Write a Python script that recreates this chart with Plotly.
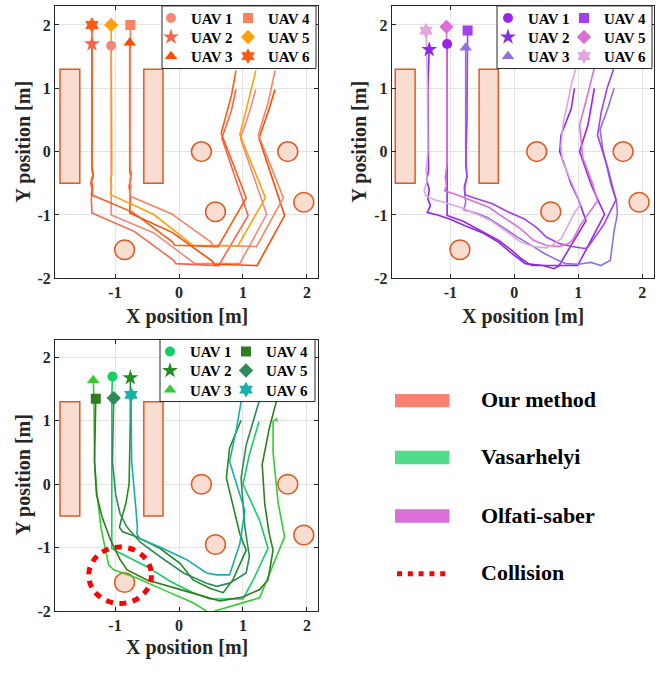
import plotly.graph_objects as go

# ------------------------------------------------------------------ data
x_ticks = [-1, 0, 1, 2]
x_tick_text = ["-1", "0", "1", "2"]
y_ticks = [-2, -1, 0, 1, 2]
y_tick_text = ["-2", "-1", "0", "1", "2"]

uav_names = ["UAV 1", "UAV 2", "UAV 3", "UAV 4", "UAV 5", "UAV 6"]
uav_symbols = ["circle", "star", "triangle-up", "square", "diamond", "hexagram"]

# obstacles
rect_x0 = [-1.86, -0.55]
rect_x1 = [-1.55, -0.25]
rect_y0 = [-0.50, -0.50]
rect_y1 = [1.30, 1.30]
circ_x = [0.35, 1.70, 0.57, 1.95, -0.85]
circ_y = [0.00, 0.00, -0.95, -0.80, -1.55]
circ_r = [0.155, 0.155, 0.155, 0.155, 0.155]

# collision region (Vasarhelyi)
collision_x = [-1.41, -0.43]
collision_y = [-1.88, -0.99]

method_names = ["Our method", "Vasarhelyi", "Olfati-saber", "Collision"]

# ---- Our method trajectories
our_uav1_x = [-1.06, -1.06, -1.06, -0.40, 0.22, 0.25, 0.95, 1.37, 0.96, 1.10, 1.20]
our_uav1_y = [1.67, -0.60, -1.00, -1.28, -1.74, -1.77, -1.77, -0.99, 0.21, 0.62, 0.98]
our_uav2_x = [-1.36, -1.36, -1.34, -1.38, -1.35, -1.37, -1.36, -0.70, -0.08, -0.05, 0.62, 1.08, 0.67, 0.82, 0.89]
our_uav2_y = [1.70, -0.30, -0.40, -0.50, -0.62, -0.75, -0.97, -1.26, -1.72, -1.77, -1.80, -1.01, 0.21, 0.65, 0.98]
our_uav3_x = [-0.77, -0.77, -0.75, -0.78, -0.76, -0.77, -0.10, 0.52, 0.55, 1.22, 1.65, 1.25, 1.40, 1.50]
our_uav3_y = [1.72, -0.30, -0.42, -0.55, -0.68, -0.97, -1.28, -1.73, -1.78, -1.80, -1.01, 0.21, 0.65, 0.98]
our_uav4_x = [-0.76, -0.76, -0.74, -0.77, -0.75, -0.77, -0.12, 0.50, 0.53, 1.21, 1.63, 1.24, 1.40, 1.50]
our_uav4_y = [2.00, -0.25, -0.35, -0.45, -0.55, -0.70, -0.98, -1.43, -1.48, -1.50, -0.73, 0.27, 0.80, 1.28]
our_uav5_x = [-1.06, -1.06, -1.05, -1.07, -1.05, -1.07, -0.40, 0.22, 0.92, 1.35, 0.95, 1.08, 1.20]
our_uav5_y = [2.00, -0.25, -0.35, -0.45, -0.55, -0.68, -0.99, -1.48, -1.49, -0.73, 0.27, 0.78, 1.28]
our_uav6_x = [-1.36, -1.36, -1.34, -1.37, -1.35, -1.37, -0.72, -0.10, -0.07, 0.61, 1.05, 0.66, 0.82, 0.89]
our_uav6_y = [2.00, -0.25, -0.35, -0.45, -0.55, -0.68, -0.96, -1.43, -1.48, -1.50, -0.73, 0.29, 0.89, 1.28]

# ---- Olfati-saber trajectories
olf_uav1_x = [-1.05, -1.05, -1.05, -0.80, -0.62, -0.46, -0.25, -0.04, 0.12, 0.27, 0.99, 1.20, 1.41, 1.30, 1.20, 1.02, 1.08, 1.15, 1.20, 1.25]
olf_uav1_y = [1.70, -0.50, -1.01, -1.10, -1.20, -1.28, -1.40, -1.56, -1.70, -1.80, -1.80, -1.40, -0.99, -0.75, -0.52, 0.00, 0.20, 0.42, 0.70, 1.00]
olf_uav2_x = [-1.33, -1.35, -1.34, -1.37, -1.33, -1.35, -1.31, -1.36, -1.20, -1.00, -0.77, -0.50, -0.25, -0.05, 0.17, 0.45, 0.62, 0.70, 0.90, 1.12, 1.00, 0.89, 0.71, 0.73, 0.89, 0.94]
olf_uav2_y = [1.61, 1.00, -0.30, -0.45, -0.60, -0.75, -0.85, -0.96, -1.00, -1.07, -1.17, -1.28, -1.43, -1.60, -1.77, -1.80, -1.85, -1.80, -1.46, -1.09, -0.75, -0.52, 0.00, 0.26, 0.68, 1.00]
olf_uav3_x = [-0.76, -0.76, -0.74, -0.78, -0.76, -0.79, -0.60, -0.42, -0.20, 0.05, 0.30, 0.47, 0.65, 0.80, 1.00, 1.20, 1.35, 1.50, 1.56, 1.61, 1.60, 1.51, 1.38, 1.34, 1.46, 1.56]
olf_uav3_y = [1.64, 0.00, -0.40, -0.60, -0.80, -0.92, -0.97, -1.04, -1.18, -1.35, -1.50, -1.61, -1.70, -1.77, -1.78, -1.75, -1.80, -1.72, -1.25, -0.99, -0.80, -0.52, 0.05, 0.35, 0.68, 1.00]
olf_uav4_x = [-0.73, -0.74, -0.76, -0.74, -0.78, -0.77, -0.60, -0.35, -0.10, 0.15, 0.35, 0.50, 0.70, 0.90, 1.10, 1.15, 1.40, 1.59, 1.52, 1.46, 1.30, 1.36, 1.45, 1.55]
olf_uav4_y = [1.91, 0.50, -0.20, -0.40, -0.55, -0.68, -0.74, -0.82, -0.95, -1.06, -1.20, -1.35, -1.45, -1.50, -1.53, -1.51, -1.15, -0.76, -0.50, -0.26, 0.26, 0.63, 1.00, 1.30]
olf_uav5_x = [-1.06, -1.05, -1.05, -1.08, -1.06, -1.09, -0.90, -0.65, -0.40, -0.15, 0.10, 0.30, 0.50, 0.70, 0.85, 0.92, 1.04, 1.30, 1.22, 1.07, 1.02, 1.12, 1.18, 1.25]
olf_uav5_y = [1.97, 1.00, -0.20, -0.40, -0.55, -0.62, -0.68, -0.78, -0.88, -1.05, -1.22, -1.40, -1.48, -1.50, -1.45, -1.38, -1.15, -0.78, -0.50, -0.10, 0.42, 0.80, 1.05, 1.32]
olf_uav6_x = [-1.38, -1.36, -1.35, -1.38, -1.36, -1.41, -1.38, -1.25, -1.10, -0.85, -0.60, -0.35, -0.10, 0.10, 0.30, 0.50, 0.60, 0.73, 0.95, 1.04, 0.90, 0.75, 0.73, 0.76, 0.85, 0.90, 0.96]
olf_uav6_y = [1.91, 1.20, 0.00, -0.30, -0.45, -0.62, -0.70, -0.76, -0.80, -0.88, -0.98, -1.10, -1.28, -1.43, -1.50, -1.52, -1.47, -1.38, -0.95, -0.83, -0.50, -0.15, 0.10, 0.42, 0.85, 1.10, 1.30]

# ---- Vasarhelyi trajectories
vas_uav1_x = [-1.04, -1.05, -1.05, -0.97, -0.50, -0.14, 0.22, 0.48, 1.00, 1.16, 1.39, 1.26, 1.00, 1.10, 1.25]
vas_uav1_y = [1.70, 1.40, -1.01, -1.06, -1.30, -1.53, -1.71, -1.81, -1.81, -1.51, -1.01, -0.57, 0.00, 0.47, 0.99]
vas_uav2_x = [-0.76, -0.76, -0.78, -0.83, -0.90, -0.93, -0.88, -0.66, -0.30, 0.02, 0.22, 0.48, 0.69, 0.84, 1.05, 0.95, 0.74, 0.79, 0.97]
vas_uav2_y = [1.68, 1.00, 0.00, -0.30, -0.55, -0.68, -0.75, -0.83, -1.01, -1.25, -1.51, -1.64, -1.71, -1.51, -1.04, -0.78, 0.10, 0.57, 1.01]
vas_uav3_x = [-1.34, -1.33, -1.32, -1.28, -1.22, -1.15, -1.10, -1.02, -0.66, -0.19, 0.22, 0.43, 0.50, 0.56, 1.26, 1.65, 1.55, 1.47, 1.47, 1.52, 1.54]
vas_uav3_y = [1.64, 1.40, 0.36, -0.16, -0.68, -1.04, -1.27, -1.35, -1.48, -1.69, -1.87, -2.00, -2.06, -2.00, -1.79, -0.83, -0.30, 0.50, 0.99, 1.03, 0.99]
vas_uav4_x = [-1.30, -1.32, -1.29, -1.20, -1.07, -0.92, -0.81, -0.50, 0.12, 0.64, 1.00, 1.26, 1.39, 1.47, 1.41, 1.34, 1.30, 1.41, 1.52]
vas_uav4_y = [1.35, 0.36, -0.16, -0.52, -0.88, -1.19, -1.35, -1.51, -1.69, -1.84, -1.78, -1.66, -1.51, -1.04, -0.78, -0.31, 0.31, 0.88, 1.30]
vas_uav5_x = [-1.02, -1.04, -0.99, -0.92, -0.81, -0.61, -0.30, 0.07, 0.43, 0.59, 0.79, 0.97, 1.05, 1.10, 1.03, 0.97, 1.05, 1.25]
vas_uav5_y = [1.36, 0.36, -0.16, -0.47, -0.68, -0.91, -1.14, -1.40, -1.56, -1.61, -1.56, -1.45, -1.40, -1.14, -0.68, 0.10, 0.62, 1.30]
vas_uav6_x = [-0.75, -0.74, -0.68, -0.65, -0.66, -0.61, -0.30, 0.12, 0.43, 0.59, 0.79, 0.95, 1.03, 0.79, 0.90, 0.97]
vas_uav6_y = [1.41, 0.36, -0.31, -0.68, -0.78, -0.86, -0.99, -1.19, -1.40, -1.43, -1.43, -0.94, -0.42, 0.36, 0.88, 1.30]

# ------------------------------------------------------------------ styles
FONT = "Liberation Serif"
W, H = 662, 675

our_colors = ["#F5877A", "#FA644B", "#FF4B00", "#FA825F", "#FFA00A", "#FF5A14"]
olf_colors = ["#9B23EB", "#8A2BE2", "#9370DB", "#A040F0", "#DA70D6", "#E2A6DE"]
vas_colors = ["#14CD64", "#228B22", "#32CD32", "#2E7D1E", "#2E8B57", "#17AFAA"]
symbol_sizes = [10, 12, 11, 10, 11, 12]
method_colors = ["#FA8072", "#52DB8A", "#DA70D6", "#FF0000"]

obst_fill = "#F8DDD0"
obst_line = "#DD5A22"


def px_x(p):
    return p / W


def py_y(p):
    return 1 - p / H


panels = [
    dict(name="our", xs=[our_uav1_x, our_uav2_x, our_uav3_x, our_uav4_x, our_uav5_x, our_uav6_x],
         ys=[our_uav1_y, our_uav2_y, our_uav3_y, our_uav4_y, our_uav5_y, our_uav6_y],
         colors=our_colors, xa="x", ya="y",
         xdom=[55, 318], ydom=[6, 282], xr=[-1.9375, 2.172], yr=[-2, 2.3],
         box=[162, 316, 6, 69.5], symx=[171, 248], rows=[18, 37.3, 56.7],
         xtitle=(186.7, 320.7), ytitle=(23.3, 144)),
    dict(name="olf", xs=[olf_uav1_x, olf_uav2_x, olf_uav3_x, olf_uav4_x, olf_uav5_x, olf_uav6_x],
         ys=[olf_uav1_y, olf_uav2_y, olf_uav3_y, olf_uav4_y, olf_uav5_y, olf_uav6_y],
         colors=olf_colors, xa="x2", ya="y2",
         xdom=[391.7, 653.7], ydom=[6, 282], xr=[-1.916, 2.178], yr=[-2, 2.3],
         box=[497, 652, 6, 69.5], symx=[508, 584], rows=[18, 37.3, 56.7],
         xtitle=(522.7, 320.7), ytitle=(359.3, 144)),
    dict(name="vas", xs=[vas_uav1_x, vas_uav2_x, vas_uav3_x, vas_uav4_x, vas_uav5_x, vas_uav6_x],
         ys=[vas_uav1_y, vas_uav2_y, vas_uav3_y, vas_uav4_y, vas_uav5_y, vas_uav6_y],
         colors=vas_colors, xa="x3", ya="y3",
         xdom=[55, 318], ydom=[344.3, 619.3], xr=[-1.9375, 2.172], yr=[-2, 2.28],
         box=[160, 315, 344, 407], symx=[170, 246], rows=[356, 375.3, 394.7],
         xtitle=(186.7, 656.7), ytitle=(23.3, 481.7)),
]

fig = go.Figure()
shapes = []
annotations = []
layout_extra = {}
legend_count = 0

for p_i, p in enumerate(panels):
    # lines
    for k in range(6):
        fig.add_trace(go.Scatter(x=p["xs"][k], y=p["ys"][k], mode="lines",
                                 line=dict(color=p["colors"][k], width=1.6),
                                 xaxis=p["xa"], yaxis=p["ya"], showlegend=False,
                                 hoverinfo="skip"))
    # start markers (legend entries)
    for k in range(6):
        legend_count += 1
        lid = "legend" if legend_count == 1 else f"legend{legend_count}"
        col = 0 if k < 3 else 1
        row = k % 3
        fig.add_trace(go.Scatter(x=[p["xs"][k][0]], y=[p["ys"][k][0]], mode="markers",
                                 marker=dict(symbol=uav_symbols[k], size=symbol_sizes[k],
                                             color=p["colors"][k],
                                             line=dict(width=0)),
                                 name=uav_names[k], xaxis=p["xa"], yaxis=p["ya"],
                                 legend=lid, showlegend=True))
        layout_extra[lid] = dict(
            x=px_x(p["symx"][col] - 20), xanchor="left",
            y=py_y(p["rows"][row] - 16.25), yanchor="top",
            bgcolor="rgba(0,0,0,0)", borderwidth=0,
            font=dict(family=FONT, size=15, color="#000000", weight="bold"),
            itemclick=False, itemdoubleclick=False)
    # legend box
    bx0, bx1, by0, by1 = p["box"]
    shapes.append(dict(type="rect", xref="paper", yref="paper",
                       x0=px_x(bx0), x1=px_x(bx1), y0=py_y(by1), y1=py_y(by0),
                       fillcolor="white", line=dict(color="#262626", width=1), layer="above"))
    # obstacles
    for j in range(len(rect_x0)):
        shapes.append(dict(type="rect", xref=p["xa"], yref=p["ya"],
                           x0=rect_x0[j], x1=rect_x1[j], y0=rect_y0[j], y1=rect_y1[j],
                           fillcolor=obst_fill, line=dict(color=obst_line, width=1.5),
                           layer="between"))
    for j in range(len(circ_x)):
        shapes.append(dict(type="circle", xref=p["xa"], yref=p["ya"],
                           x0=circ_x[j] - circ_r[j], x1=circ_x[j] + circ_r[j],
                           y0=circ_y[j] - circ_r[j], y1=circ_y[j] + circ_r[j],
                           fillcolor=obst_fill, line=dict(color=obst_line, width=1.5),
                           layer="between"))
    # axes
    axis_style = dict(showgrid=True, gridcolor="#E4E4E4", gridwidth=1, zeroline=False,
                      showline=True, linecolor="#262626", linewidth=1, mirror="ticks",
                      ticks="inside", ticklen=4, tickcolor="#262626", tickwidth=1,
                      tickfont=dict(family=FONT, size=16, color="#262626", weight="bold"),
                      fixedrange=True)
    xkey = "xaxis" if p["xa"] == "x" else "xaxis" + p["xa"][1:]
    ykey = "yaxis" if p["ya"] == "y" else "yaxis" + p["ya"][1:]
    layout_extra[xkey] = dict(axis_style, domain=[px_x(p["xdom"][0]), px_x(p["xdom"][1])],
                              range=p["xr"], anchor=p["ya"], tickvals=x_ticks,
                              ticktext=x_tick_text)
    layout_extra[ykey] = dict(axis_style, domain=[py_y(p["ydom"][1]), py_y(p["ydom"][0])],
                              range=p["yr"], anchor=p["xa"], tickvals=y_ticks,
                              ticktext=y_tick_text)
    # axis titles
    annotations.append(dict(text="X position [m]", xref="paper", yref="paper",
                            x=px_x(p["xtitle"][0]), y=py_y(p["xtitle"][1]),
                            xanchor="center", yanchor="middle", showarrow=False,
                            font=dict(family=FONT, size=20, color="#262626", weight="bold")))
    annotations.append(dict(text="Y position [m]", xref="paper", yref="paper",
                            x=px_x(p["ytitle"][0]), y=py_y(p["ytitle"][1]), textangle=-90,
                            xanchor="center", yanchor="middle", showarrow=False,
                            font=dict(family=FONT, size=20, color="#262626", weight="bold")))

# collision marker on Vasarhelyi panel
shapes.append(dict(type="circle", xref="x3", yref="y3",
                   x0=collision_x[0], x1=collision_x[1], y0=collision_y[0], y1=collision_y[1],
                   line=dict(color=method_colors[3], width=5, dash="7px,6.5px"),
                   fillcolor="rgba(0,0,0,0)", layer="above"))

# method key (bottom right)
key_rows = [406, 463.7, 523, 581.5]
for i, name in enumerate(method_names):
    yc = key_rows[i]
    if i < 3:
        shapes.append(dict(type="rect", xref="paper", yref="paper",
                           x0=px_x(395), x1=px_x(449.5), y0=py_y(yc + 6.8), y1=py_y(yc - 6.8),
                           fillcolor=method_colors[i], line=dict(width=0), layer="above"))
    else:
        shapes.append(dict(type="line", xref="paper", yref="paper",
                           x0=px_x(397), x1=px_x(451), y0=py_y(yc), y1=py_y(yc),
                           line=dict(color=method_colors[i], width=5, dash="5px,5.8px"),
                           layer="above"))
    annotations.append(dict(text=name, xref="paper", yref="paper",
                            x=px_x(479), y=py_y(yc - 1), xanchor="left", yanchor="middle",
                            showarrow=False,
                            font=dict(family=FONT, size=22, color="#000000", weight="bold")))

fig.update_layout(
    width=W, height=H,
    margin=dict(l=0, r=0, t=0, b=0),
    paper_bgcolor="white", plot_bgcolor="white",
    shapes=shapes, annotations=annotations,
    hovermode=False,
    **layout_extra,
)

fig.write_html("out.html", config=dict(displayModeBar=False),
               post_script="document.body.style.margin='0';document.body.style.overflow='hidden';")
